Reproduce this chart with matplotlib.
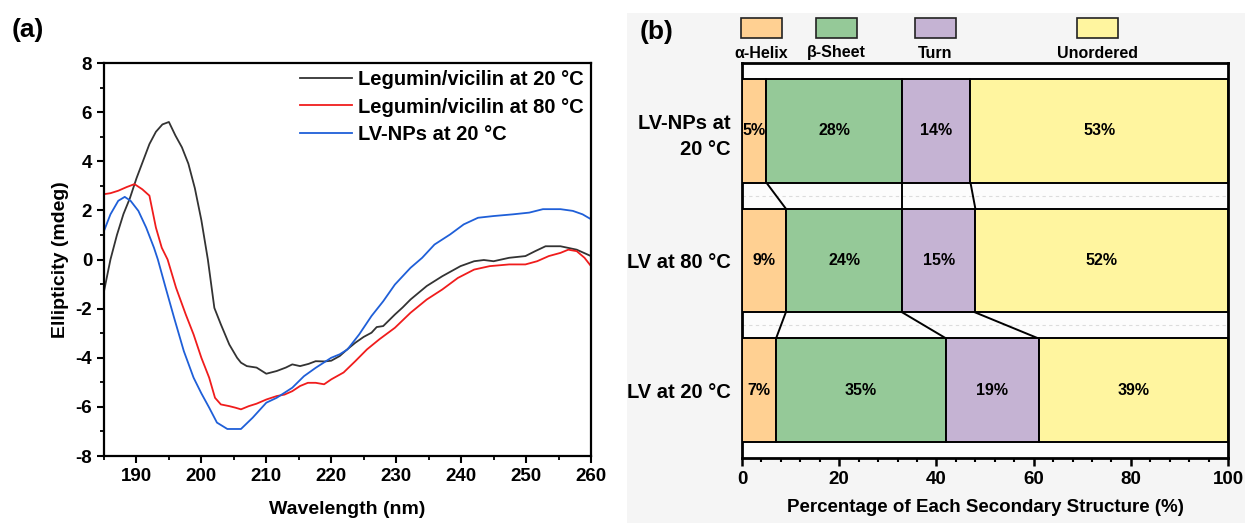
import matplotlib
matplotlib.use('Agg')
import matplotlib.pyplot as plt
from matplotlib.patches import Rectangle
from matplotlib.ticker import MultipleLocator

plt.rcParams['font.family'] = ['Liberation Sans', 'DejaVu Sans']
plt.rcParams['font.weight'] = 'bold'
plt.rcParams['axes.unicode_minus'] = False

# (a) CD spectra
wl_black = [185, 186, 187, 188, 189, 190, 191, 192, 193, 194, 195, 196, 197, 198, 199, 200, 201, 202, 203,
            204.3, 205.5, 206.1, 207, 208.5, 210, 211.6, 213, 214, 215.2, 216.5, 217.6, 219, 220, 221.3,
            222.5, 223.7, 225, 226.2, 227, 228, 229.8, 231, 232.2, 234.7, 237.1, 239.9, 242, 243.5, 245,
            247.4, 249.9, 251.4, 253, 255.3, 257.8, 260]
cd_black = [-1.3, 0.0, 1.0, 1.85, 2.5, 3.3, 4.0, 4.7, 5.2, 5.5, 5.6, 5.05, 4.57, 3.9, 2.9, 1.6, 0.0, -1.97, -2.64,
            -3.46, -4.0, -4.2, -4.34, -4.4, -4.65, -4.54, -4.4, -4.27, -4.34, -4.25, -4.14, -4.15, -4.12, -3.93,
            -3.65, -3.39, -3.15, -2.98, -2.75, -2.71, -2.24, -1.95, -1.63, -1.08, -0.68, -0.27, -0.07, -0.02, -0.07,
            0.07, 0.14, 0.34, 0.54, 0.54, 0.4, 0.14]

wl_red = [185, 186, 187.2, 188.5, 189.7, 190.9, 192, 193, 193.9, 194.8, 196.1, 197.6, 198.8, 200, 201.2, 202.1,
          203, 204.3, 205.2, 206.1, 207.3, 208.5, 210, 211.6, 212.8, 214, 215.2, 216.4, 217.6, 218.9, 220, 221.9,
          223.7, 225.5, 227.4, 229.8, 232.2, 234.7, 237.1, 239.5, 242, 244.4, 247.4, 249.9, 251.7, 253.5, 255.3,
          256.5, 257.8, 259, 260]
cd_red = [2.66, 2.7, 2.8, 2.95, 3.07, 2.86, 2.6, 1.3, 0.48, 0.0, -1.15, -2.24, -3.05, -4.0, -4.81, -5.63,
          -5.9, -5.97, -6.03, -6.1, -5.97, -5.87, -5.7, -5.56, -5.5, -5.36, -5.15, -5.02, -5.02, -5.08, -4.88, -4.6,
          -4.14, -3.66, -3.25, -2.78, -2.17, -1.63, -1.22, -0.75, -0.41, -0.27, -0.2, -0.2, -0.07, 0.14, 0.27,
          0.4, 0.34, 0.07, -0.27]

wl_blue = [185, 186, 187.2, 188.2, 189.1, 190.3, 191.5, 192.7, 193.3, 194.5, 195.8, 197.3, 198.8, 200, 201.2,
           202.4, 204, 206.1, 207.9, 210, 211.6, 214, 215.8, 217.6, 220, 221.3, 222.5, 224.3, 226.2, 228, 229.8,
           232.2, 234, 235.9, 238.3, 240.4, 242.6, 245, 248, 250.5, 252.6, 255.3, 257.2, 258.7, 260]
cd_blue = [1.16, 1.84, 2.39, 2.55, 2.39, 1.98, 1.3, 0.48, 0.0, -1.15, -2.37, -3.73, -4.81, -5.45, -6.03,
           -6.64, -6.9, -6.9, -6.44, -5.83, -5.63, -5.22, -4.75, -4.41, -4.0, -3.86, -3.66, -3.05, -2.3, -1.7, -1.02,
           -0.34, 0.07, 0.61, 1.02, 1.43, 1.7, 1.77, 1.84, 1.91, 2.05, 2.05, 1.98, 1.84, 1.64]

# (b) secondary structure, bottom row first
samples = ['LV at 20 °C', 'LV at 80 °C', 'LV-NPs at\n20 °C']
helix = [7, 9, 5]
sheet = [35, 24, 28]
turn = [19, 15, 14]
unordered = [39, 52, 53]
structure_names = ['α-Helix', 'β-Sheet', 'Turn', 'Unordered']
structure_colors = ['#ffd092', '#95c998', '#c5b3d3', '#fff59f']

fig = plt.figure(figsize=(12.45, 5.23), dpi=100)
fig.patch.set_facecolor('white')
fig.patches.append(Rectangle((0.5036, 0), 0.4964, 0.975, transform=fig.transFigure,
                             facecolor='#f5f5f5', edgecolor='none', zorder=-10))

# ---- panel (a)
ax1 = fig.add_axes([0.0835, 0.1281, 0.3912, 0.7514])
ax1.plot(wl_black, cd_black, color='#333333', lw=1.3, label='Legumin/vicilin at 20 °C')
ax1.plot(wl_red, cd_red, color='#f01c1c', lw=1.3, label='Legumin/vicilin at 80 °C')
ax1.plot(wl_blue, cd_blue, color='#1f5fd8', lw=1.3, label='LV-NPs at 20 °C')
ax1.set_xlim(185, 260)
ax1.set_ylim(-8, 8)
ax1.xaxis.set_major_locator(MultipleLocator(10))
ax1.xaxis.set_minor_locator(MultipleLocator(5))
ax1.yaxis.set_major_locator(MultipleLocator(2))
ax1.yaxis.set_minor_locator(MultipleLocator(1))
ax1.set_xticks([190, 200, 210, 220, 230, 240, 250, 260])
ax1.tick_params(which='major', direction='out', length=5, width=1.5, labelsize=13.5)
ax1.tick_params(which='minor', direction='out', length=3, width=1.3)
for s in ax1.spines.values():
    s.set_linewidth(1.6)
ax1.set_xlabel('Wavelength (nm)', fontsize=14, fontweight='bold')
ax1.set_ylabel('Ellipticity (mdeg)', fontsize=14, fontweight='bold')
ax1.xaxis.set_label_coords(0.5, -0.115)
ax1.yaxis.set_label_coords(-0.072, 0.5)
ax1.legend(loc='upper right', frameon=False, handlelength=2.6, handletextpad=0.3,
           labelspacing=0.42, borderaxespad=0.15, borderpad=0.2,
           prop={'weight': 'bold', 'size': 14.5})
fig.text(0.0095, 0.942, '(a)', fontsize=19, fontweight='bold', va='center')

# ---- panel (b)
ax2 = fig.add_axes([0.596, 0.1243, 0.3904, 0.7552])
ax2.set_facecolor('#fcfcfc')
ypos = list(range(len(samples)))
bh = 0.8
series = [helix, sheet, turn, unordered]
lefts = [0] * len(samples)
cums = []
for vals, col in zip(series, structure_colors):
    ax2.barh(ypos, vals, left=lefts, height=bh, color=col, edgecolor='black', lw=1.4, zorder=3)
    for y, l, v in zip(ypos, lefts, vals):
        ax2.text(l + v / 2, y, f'{v}%', ha='center', va='center', fontsize=11.5, fontweight='bold', zorder=4)
    lefts = [l + v for l, v in zip(lefts, vals)]
    cums.append(lefts)

# connecting lines between rows
for k in range(3):
    for i in range(len(samples) - 1):
        ax2.plot([cums[k][i + 1], cums[k][i]], [ypos[i + 1] - bh / 2, ypos[i] + bh / 2],
                 color='black', lw=1.4, zorder=2)
for y in [0.5, 1.5]:
    ax2.axhline(y, color='#dcdcdc', lw=0.8, ls=(0, (3, 3)), zorder=1)

ax2.set_xlim(0, 100)
ax2.set_ylim(-0.52, 2.52)
ax2.set_yticks(ypos)
ax2.set_yticklabels(samples, fontsize=14.5, fontweight='bold', ha='right', linespacing=1.5)
ax2.xaxis.set_major_locator(MultipleLocator(20))
ax2.xaxis.set_minor_locator(MultipleLocator(4))
ax2.tick_params(axis='y', length=0, pad=8)
ax2.tick_params(axis='x', which='major', direction='out', length=6, width=1.8, labelsize=13.5)
ax2.tick_params(axis='x', which='minor', direction='out', length=3, width=1.5)
for s in ax2.spines.values():
    s.set_linewidth(2)
ax2.set_xlabel('Percentage of Each Secondary Structure (%)', fontsize=13.5, fontweight='bold')
ax2.xaxis.set_label_coords(0.5, -0.105)

# legend boxes above the panel
W, H = 1245.0, 523.0
patch_x = [741, 816, 915, 1077]
for px, name, col in zip(patch_x, structure_names, structure_colors):
    fig.patches.append(Rectangle((px / W, 1 - 38 / H), 41 / W, 20 / H, transform=fig.transFigure,
                                 facecolor=col, edgecolor='#222222', lw=1.2))
    fig.text((px + 20.5) / W, 1 - 53 / H, name, ha='center', va='center', fontsize=11.5, fontweight='bold')
fig.text(0.514, 0.938, '(b)', fontsize=19, fontweight='bold', va='center')

fig.savefig('out.png', dpi=100)
